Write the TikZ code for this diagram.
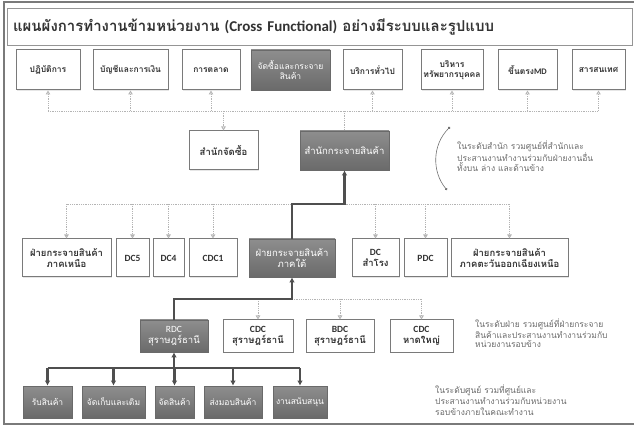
\documentclass[tikz,border=0pt]{standalone}
\usepackage{fontspec}
\setmainfont{Carlito}
\newfontfamily\thaifont[Script=Thai]{Loma}
\usetikzlibrary{arrows.meta, positioning, shadows, calc}
\definecolor{orgframe}{HTML}{7A7A7A}
\definecolor{orgdot}{HTML}{B4B4B4}
\definecolor{orgink}{HTML}{333333}
\definecolor{orgbar}{HTML}{4F4F4F}
\definecolor{orggreytop}{HTML}{8E8E8E}
\definecolor{orggreybot}{HTML}{6A6A6A}
\definecolor{orgnote}{HTML}{6A6A6A}

\begin{document}
\begin{tikzpicture}[x=1pt,y=-1pt,
  unitbox/.style={draw=orgframe,line width=1pt,fill=white,align=center,inner sep=1pt,
    font=\bfseries\fontsize{9.5}{11}\selectfont,text=orgink,
    drop shadow={opacity=0.2,shadow xshift=1pt,shadow yshift=-1pt}},
  keybox/.style={draw=orggreybot,line width=0.6pt,top color=orggreytop,bottom color=orggreybot,
    align=center,inner sep=1pt,font=\fontsize{9.5}{11}\selectfont,text=white,
    drop shadow={opacity=0.25,shadow xshift=1pt,shadow yshift=-1pt}},
  dotlink/.style={orgdot,line width=0.8pt,densely dotted},
  dotarrow/.style={dotlink,-{Triangle[open,length=4pt,width=4.5pt]}},
  mainlink/.style={orgbar,line width=2.2pt},
  mainarrow/.style={mainlink,-{Latex[length=5pt,width=5.5pt]}},
  note/.style={text=orgnote,align=left,anchor=north west,inner sep=0pt}]
  \useasboundingbox (0,0) rectangle (634,427);
  \draw[orgframe,line width=2pt] (634,2) -- (4,2) -- (4,424) -- (634,424);
  \node[draw=orgframe!80,line width=0.8pt,minimum width=625pt,minimum height=37pt,
        inner xsep=6pt,text width=613pt,align=left,text=orgink,
        font=\bfseries\fontsize{15}{17}\selectfont] (title) at (319.5,26.5)
        {{\thaifont แผนผังการทำงานข้ามหน่วยงาน} (Cross Functional) {\thaifont อย่างมีระบบและรูปแบบ}};

  % ฝ่ายงานระดับบน
  \foreach \nm/\x/\w/\txt in {
    top1/48/64/{ปฏิบัติการ},
    top2/130.5/75/{บัญชีและการเงิน},
    top3/211/58/{การตลาด},
    top5/372.5/59/{บริการทั่วไป},
    top6/452/62/{บริหาร\\ทรัพยากรบุคคล},
    top7/527.5/59/{ขึ้นตรง{\fontspec{Carlito}MD}},
    top8/598.5/53/{สารสนเทศ}}
  {
    \node[unitbox,minimum width=\w pt,minimum height=40pt,font=\thaifont\bfseries\fontsize{8.5}{10}\selectfont] (\nm) at (\x,70) {\txt};
  }
  \node[keybox,minimum width=79pt,minimum height=40pt,font=\thaifont\fontsize{8.5}{10}\selectfont] (top4) at (290.5,70) {จัดซื้อและกระจาย\\สินค้า};

  % ระดับสำนัก
  \node[unitbox,minimum width=69pt,minimum height=39pt,font=\thaifont\bfseries\fontsize{9.5}{11}\selectfont] (purchase) at (223.5,150.5) {สำนักจัดซื้อ};
  \node[keybox,minimum width=89pt,minimum height=39pt,font=\thaifont\fontsize{9.5}{11}\selectfont] (hq) at (344.5,150.5) {สำนักกระจายสินค้า};

  % ระดับฝ่าย
  \foreach \nm/\x/\w/\txt in {
    north/66.5/89/{{\thaifont ฝ่ายกระจายสินค้า}\\{\thaifont ภาคเหนือ}},
    dc5/132.5/33/{DC5},
    dc4/168.5/31/{DC4},
    cdc1/213/48/{CDC1},
    samrong/375.5/47/{DC\\{\thaifont สำโรง}},
    pdc/425.5/43/{PDC},
    east/509.5/117/{{\thaifont ฝ่ายกระจายสินค้า}\\{\thaifont ภาคตะวันออกเฉียงเหนือ}}}
  {
    \node[unitbox,minimum width=\w pt,minimum height=38pt] (\nm) at (\x,258) {\txt};
  }
  \node[keybox,minimum width=86pt,minimum height=38pt,font=\thaifont\fontsize{9.5}{11}\selectfont] (south) at (292,258) {ฝ่ายกระจายสินค้า\\ภาคใต้};

  % ระดับศูนย์
  \node[keybox,minimum width=68pt,minimum height=32pt] (rdc) at (174,336) {RDC\\{\thaifont สุราษฎร์ธานี}};
  \foreach \nm/\x/\w/\txt in {
    cdcs/258/70/{CDC\\{\thaifont สุราษฎร์ธานี}},
    bdc/340/68/{BDC\\{\thaifont สุราษฎร์ธานี}},
    hatyai/421.5/63/{CDC\\{\thaifont หาดใหญ่}}}
  {
    \node[unitbox,minimum width=\w pt,minimum height=32pt] (\nm) at (\x,336) {\txt};
  }

  % งานในศูนย์
  \foreach \nm/\x/\w/\txt in {
    receive/47.5/49/{รับสินค้า},
    store/113.5/63/{จัดเก็บและเติม},
    pick/174.5/39/{จัดสินค้า},
    ship/233/58/{ส่งมอบสินค้า},
    support/300/54/{งานสนับสนุน}}
  {
    \node[keybox,minimum width=\w pt,minimum height=32pt,font=\thaifont\fontsize{8.5}{10}\selectfont] (\nm) at (\x,402) {\txt};
  }

  % เส้นเชื่อม
  \coordinate (lvl1) at (0,111);
  \coordinate (lvl3) at (0,204);
  \coordinate (lvl4) at (0,299);
  \coordinate (lvl5) at (0,368);
  \draw[dotlink] (top1.south |- lvl1) -- (top8.south |- lvl1);
  \foreach \nm in {top1,top2,top3,top5,top6,top7,top8}
    \draw[dotarrow] (\nm.south |- lvl1) -- (\nm.south);
  \draw[dotarrow] (purchase.north |- lvl1) -- (purchase.north);
  \draw[dotlink] (hq.north |- lvl1) -- (hq.north);

  \draw[dotlink] (north.north |- lvl3) -- (east.north |- lvl3);
  \foreach \nm in {north,dc5,dc4,cdc1,samrong,pdc,east}
    \draw[dotarrow] (\nm.north |- lvl3) -- (\nm.north);
  \draw[mainarrow] (south.north) -- (south.north |- lvl3) -- (hq.south |- lvl3) -- (hq.south);

  \draw[dotlink] (south.south |- lvl4) -- (hatyai.north |- lvl4);
  \foreach \nm in {cdcs,bdc,hatyai}
    \draw[dotarrow] (\nm.north |- lvl4) -- (\nm.north);
  \draw[mainarrow] (rdc.north) -- (rdc.north |- lvl4) -- (south.south |- lvl4) -- (south.south);

  \draw[mainlink] (receive.north |- lvl5) -- (support.north |- lvl5);
  \foreach \nm in {receive,store,pick,ship,support}
    \draw[mainarrow] (\nm.north |- lvl5) -- (\nm.north);
  \draw[mainarrow] (rdc.south |- lvl5) -- (rdc.south);

  % หมายเหตุ
  \coordinate (arctop) at (450,127);
  \coordinate (arcbot) at (447,190);
  \draw[orgbar!80,line width=0.6pt,{Circle[length=2.5pt]}-{Circle[length=2.5pt]}]
    (arctop) .. controls (432,145) and (432,172) .. (arcbot);
  \node[note,font=\thaifont\fontsize{8.5}{10}\selectfont] (noteoffice) at (457,141)
    {ในระดับสำนัก รวมศูนย์ที่สำนักและ\\ประสานงานทำงานร่วมกับฝ่ายงานอื่น\\ทั้งบน ล่าง และด้านข้าง};
  \node[note,font=\thaifont\fontsize{8.5}{9}\selectfont] (notedept) at (475,319)
    {ในระดับฝ่าย รวมศูนย์ที่ฝ่ายกระจาย\\สินค้าและประสานงานทำงานร่วมกับ\\หน่วยงานรอบข้าง};
  \node[note,font=\thaifont\fontsize{8.5}{11}\selectfont] (notecentre) at (435,385)
    {ในระดับศูนย์ รวมที่ศูนย์และ\\ประสานงานทำงานร่วมกับหน่วยงาน\\รอบข้างภายในคณะทำงาน};
\end{tikzpicture}
\end{document}
